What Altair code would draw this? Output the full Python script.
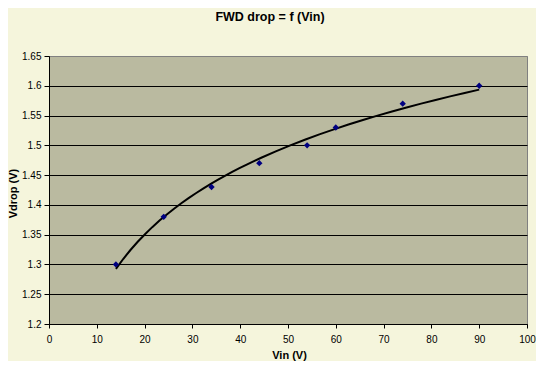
import altair as alt
import pandas as pd

vin = [14, 24, 34, 44, 54, 60, 74, 90]
vdrop = [1.30, 1.38, 1.43, 1.47, 1.50, 1.53, 1.57, 1.60]
x_ticks = [0, 10, 20, 30, 40, 50, 60, 70, 80, 90, 100]
y_ticks = [1.2, 1.25, 1.3, 1.35, 1.4, 1.45, 1.5, 1.55, 1.6, 1.65]

df = pd.DataFrame({"Vin": vin, "Vdrop": vdrop})

FONT = "Liberation Sans"

x_enc = alt.X(
    "Vin:Q",
    scale=alt.Scale(domain=[0, 100], nice=False, zero=False),
    axis=alt.Axis(
        values=x_ticks, grid=False, title="Vin (V)", format="d",
        titleX=240, titleY=34, titleBaseline="alphabetic", titleAlign="center",
        labelPadding=6, tickSize=4, labelFlush=False,
    ),
)
y_enc = alt.Y(
    "Vdrop:Q",
    scale=alt.Scale(domain=[1.2, 1.65], nice=False, zero=False),
    axis=alt.Axis(
        values=y_ticks, grid=True, title="Vdrop (V)", format="~g",
        titleX=-36, titleY=137, titleAngle=-90, titleAlign="center",
        titleBaseline="middle", labelPadding=3, tickSize=5, labelFlush=False,
        gridColor={"condition": {"test": "datum.value > 1.64", "value": "#808080"}, "value": "#000000"},
    ),
)

base = alt.Chart(df)

trend = base.transform_regression("Vin", "Vdrop", method="log").mark_line(
    color="#000000", strokeWidth=2
).encode(x=x_enc, y=y_enc)

points = base.mark_point(
    shape="diamond", filled=True, color="#000080", size=40, opacity=1
).encode(x=x_enc, y=y_enc)

chart = (
    alt.layer(trend, points)
    .properties(
        width=478,
        height=268,
        autosize=alt.AutoSizeParams(type="none"),
        padding={"left": 41, "top": 48, "right": 9, "bottom": 37},
        background="#F5F5DC",
        title=alt.TitleParams(
            "FWD drop = f (Vin)", fontSize=12.5, fontWeight="bold", font=FONT,
            color="#000000", dx=-18, offset=28,
        ),
    )
    .configure_view(fill="#BABAA0", stroke="#808080", strokeWidth=1)
    .configure_axis(
        domainColor="#000000", tickColor="#000000", labelColor="#000000",
        labelFont=FONT, labelFontSize=10, titleFont=FONT, titleFontSize=11,
        titleFontWeight="bold", titleColor="#000000", gridWidth=1, domainWidth=1,
    )
)

chart.save("out.html", embed_options={"renderer": "svg", "actions": False})
